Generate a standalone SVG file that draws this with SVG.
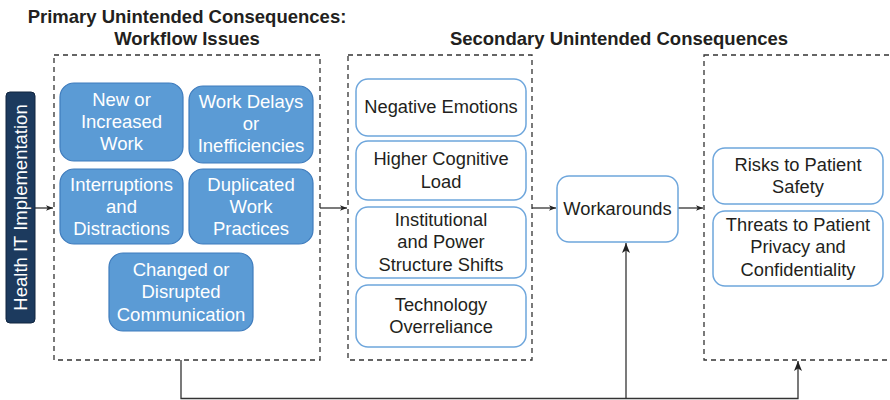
<svg xmlns="http://www.w3.org/2000/svg" width="890" height="400" viewBox="0 0 890 400">
<defs>
<style>
text{font-family:"Liberation Sans",Arial,sans-serif;text-anchor:middle;}
.title{font-size:18.5px;font-weight:bold;fill:#231f20;}
.dash{fill:none;stroke:#333;stroke-width:1.3;stroke-dasharray:5,4;}
.blue rect{fill:#5b9bd5;stroke:#3f7cbd;stroke-width:1.2;}
.blue text{fill:#fff;font-size:18.5px;}
.white rect{fill:#fff;stroke:#6ea6dc;stroke-width:1.5;}
.white text{fill:#231f20;font-size:18.3px;}
.conn{fill:none;stroke:#333;stroke-width:1.3;}
</style>
<marker id="arr" viewBox="0 0 10 10" refX="10" refY="5" markerWidth="7" markerHeight="7" markerUnits="userSpaceOnUse" orient="auto">
<path d="M0,1 L10,5 L0,9 L2.5,5 Z" fill="#222"/>
</marker>
<marker id="arrb" viewBox="0 0 10 10" refX="10" refY="5" markerWidth="10" markerHeight="10" markerUnits="userSpaceOnUse" orient="auto">
<path d="M0,1 L10,5 L0,9 L2.5,5 Z" fill="#222"/>
</marker>
</defs>
<rect width="890" height="400" fill="#fff"/>

<g id="titles">
<text class="title" x="187" y="23">Primary Unintended Consequences:</text>
<text class="title" x="187" y="45">Workflow Issues</text>
<text class="title" x="619" y="45">Secondary Unintended Consequences</text>
</g>

<g id="groups">
<rect class="dash" x="54" y="55" width="266" height="305"/>
<rect class="dash" x="348" y="55" width="184" height="305"/>
<rect class="dash" x="704" y="55" width="200" height="305"/>
</g>

<g id="connectors">
<line class="conn" x1="35" y1="208" x2="53" y2="208" marker-end="url(#arr)"/>
<line class="conn" x1="320" y1="208" x2="347" y2="208" marker-end="url(#arr)"/>
<line class="conn" x1="532" y1="208" x2="556" y2="208" marker-end="url(#arr)"/>
<line class="conn" x1="678" y1="208" x2="703" y2="208" marker-end="url(#arr)"/>
<polyline class="conn" points="181,360 181,398.5 798,398.5 798,361" marker-end="url(#arrb)"/>
<line class="conn" x1="626" y1="398.5" x2="626" y2="243" marker-end="url(#arrb)"/>
</g>

<g id="health-it">
<rect x="6" y="92" width="29" height="231" rx="4" fill="#1c3a5e" stroke="#10253f" stroke-width="1"/>
<text x="0" y="0" transform="translate(20.5,207.5) rotate(-90)" dominant-baseline="central" style="font-size:18.5px;fill:#fff">Health IT Implementation</text>
</g>

<g id="new-work" class="blue">
<rect x="60" y="83" width="123" height="78" rx="14"/>
<text x="121.5" y="106">New or</text><text x="121.5" y="128">Increased</text><text x="121.5" y="150">Work</text>
</g>
<g id="work-delays" class="blue">
<rect x="189" y="86" width="124" height="77" rx="14"/>
<text x="251" y="108">Work Delays</text><text x="251" y="130">or</text><text x="251" y="152">Inefficiencies</text>
</g>
<g id="interruptions" class="blue">
<rect x="60" y="169" width="123" height="75" rx="14"/>
<text x="121.5" y="191">Interruptions</text><text x="121.5" y="213">and</text><text x="121.5" y="235">Distractions</text>
</g>
<g id="duplicated" class="blue">
<rect x="189" y="169" width="124" height="75" rx="14"/>
<text x="251" y="191">Duplicated</text><text x="251" y="213">Work</text><text x="251" y="235">Practices</text>
</g>
<g id="changed" class="blue">
<rect x="109" y="253" width="144" height="78" rx="14"/>
<text x="181" y="276">Changed or</text><text x="181" y="298">Disrupted</text><text x="181" y="321">Communication</text>
</g>

<g id="negative-emotions" class="white">
<rect x="356" y="79" width="170" height="57" rx="12"/>
<text x="441" y="113">Negative Emotions</text>
</g>
<g id="cognitive-load" class="white">
<rect x="356" y="141" width="170" height="59" rx="12"/>
<text x="441" y="165">Higher Cognitive</text><text x="441" y="188">Load</text>
</g>
<g id="power-shifts" class="white">
<rect x="356" y="207" width="170" height="71" rx="12"/>
<text x="441" y="226">Institutional</text><text x="441" y="248">and Power</text><text x="441" y="271">Structure Shifts</text>
</g>
<g id="overreliance" class="white">
<rect x="356" y="285" width="170" height="62" rx="12"/>
<text x="441" y="311">Technology</text><text x="441" y="333">Overreliance</text>
</g>

<g id="workarounds" class="white">
<rect x="557" y="176" width="121" height="66" rx="12"/>
<text x="617.5" y="215">Workarounds</text>
</g>

<g id="patient-safety" class="white">
<rect x="713" y="148" width="170" height="56" rx="12"/>
<text x="798" y="171">Risks to Patient</text><text x="798" y="193">Safety</text>
</g>
<g id="privacy" class="white">
<rect x="713" y="211" width="170" height="75" rx="12"/>
<text x="798" y="231">Threats to Patient</text><text x="798" y="253">Privacy and</text><text x="798" y="276">Confidentiality</text>
</g>
</svg>
